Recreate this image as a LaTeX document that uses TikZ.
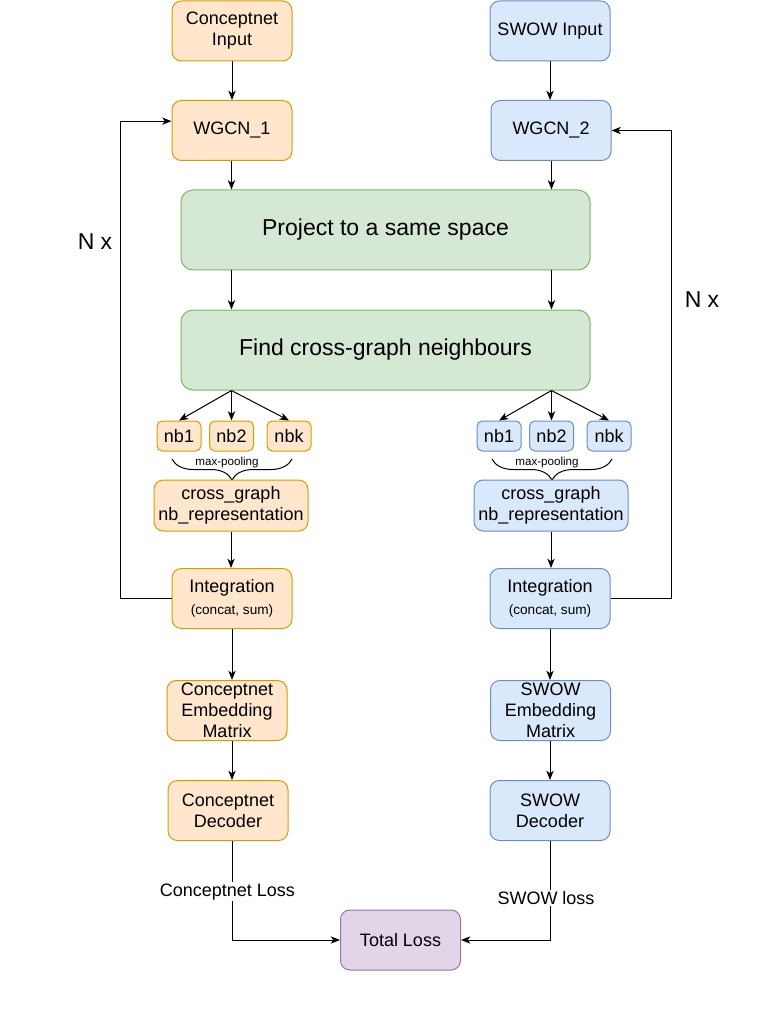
\documentclass[tikz,border=0pt]{standalone}
\usepackage{fontspec}
\setmainfont{Liberation Sans}
\usetikzlibrary{arrows.meta,positioning,decorations.pathreplacing}

\definecolor{cnfill}{HTML}{FFE6CC}
\definecolor{cnline}{HTML}{D79B00}
\definecolor{swfill}{HTML}{DAE8FC}
\definecolor{swline}{HTML}{6C8EBF}
\definecolor{grfill}{HTML}{D5E8D4}
\definecolor{grline}{HTML}{82B366}
\definecolor{lossfill}{HTML}{E1D5E7}
\definecolor{lossline}{HTML}{9673A6}

\newcommand{\boxfont}{\fontsize{13.5}{15.75}\selectfont}
\newcommand{\smallfont}{\fontsize{10.2}{12}\selectfont}

\tikzstyle{block} = [rounded corners=7pt, align=center, inner sep=0pt, font=\boxfont, minimum width=90pt, minimum height=45pt]
\tikzstyle{cnbox} = [block, draw=cnline, fill=cnfill]
\tikzstyle{swbox} = [block, draw=swline, fill=swfill]
\tikzstyle{lossbox} = [block, draw=lossline, fill=lossfill]
\tikzstyle{bigbox} = [block, draw=grline, fill=grfill, minimum width=306.75pt, minimum height=60pt, rounded corners=9pt, font=\fontsize{17.25}{20}\selectfont]
\tikzstyle{nbbox} = [minimum width=33pt, minimum height=22.5pt, rounded corners=4pt]
\tikzstyle{crossbox} = [minimum width=115.5pt, minimum height=38.25pt]
\tikzstyle{pool} = [decorate, decoration={brace, mirror, amplitude=15.75pt}]
\tikzstyle{arrow} = [->]

\begin{document}
\begin{tikzpicture}[x=0.75pt, y=-0.75pt, line width=0.75pt, >={Stealth[length=7pt,width=5.5pt,inset=2pt]}]
            \useasboundingbox (0,0) rectangle (771,1030);

            % Conceptnet 一侧
            \node[cnbox] (cnin) at (232,31) {Conceptnet\\Input};
            \node[cnbox] (wgcn1) at (232,130.5) {WGCN\_1};
            % SWOW 一侧
            \node[swbox] (swin) at (550,31) {SWOW Input};
            \node[swbox] (wgcn2) at (551,130.5) {WGCN\_2};

            % 公共部分
            \node[bigbox] (proj) at (385.5,230) {Project to a same space};
            \node[bigbox] (find) at (385.5,350) {Find cross-graph neighbours};

            % 邻居节点
            \node[cnbox, nbbox] (cnnb1) at (179,436) {nb1};
            \node[cnbox, nbbox] (cnnb2) at (231.5,436) {nb2};
            \node[cnbox, nbbox] (cnnbk) at (289,436) {nbk};
            \node[swbox, nbbox] (swnb1) at (499,436) {nb1};
            \node[swbox, nbbox] (swnb2) at (551.5,436) {nb2};
            \node[swbox, nbbox] (swnbk) at (609,436) {nbk};

            % max-pooling
            \draw[pool] (172,459) -- (292,459);
            \draw[pool] (492,459) -- (612,459);
            \node[font=\fontsize{8.7}{10}\selectfont] (cnpool) at (227,462) {max-pooling};
            \node[font=\fontsize{8.7}{10}\selectfont] (swpool) at (547,462) {max-pooling};

            \node[cnbox, crossbox] (cncross) at (231,505.5) {cross\_graph\\nb\_representation};
            \node[swbox, crossbox] (swcross) at (551,505.5) {cross\_graph\\nb\_representation};

            \node[cnbox] (cnint) at (232,598.5) {Integration\\[1pt]{\smallfont (concat, sum)}};
            \node[swbox] (swint) at (550,598.5) {Integration\\[1pt]{\smallfont (concat, sum)}};

            \node[cnbox] (cnemb) at (227,710.5) {Conceptnet\\Embedding\\Matrix};
            \node[swbox] (swemb) at (550.5,710.5) {SWOW\\Embedding\\Matrix};
            \node[cnbox] (cndec) at (228,810.5) {Conceptnet\\Decoder};
            \node[swbox] (swdec) at (550,810.5) {SWOW\\Decoder};

            \node[lossbox] (total) at (400.5,940) {Total Loss};

            % N x
            \node[font=\fontsize{17.25}{20}\selectfont] (cnrep) at (95,242) {N x};
            \node[font=\fontsize{17.25}{20}\selectfont] (swrep) at (702,300) {N x};

            % 转移箭头
            \draw[arrow] (cnin) -- (wgcn1);
            \draw[arrow] (swin.south) -- (swin.south |- wgcn2.north);
            \draw[arrow] (wgcn1.south -| cnnb2) -- (proj.north -| cnnb2);
            \draw[arrow] (wgcn2.south -| swnb2) -- (proj.north -| swnb2);
            \draw[arrow] (proj.south -| cnnb2) -- (find.north -| cnnb2);
            \draw[arrow] (proj.south -| swnb2) -- (find.north -| swnb2);

            \coordinate (cnsplit) at (find.south -| cnnb2);
            \coordinate (swsplit) at (find.south -| swnb2);
            \foreach \n in {cnnb1,cnnb2,cnnbk}
                \draw[arrow] (cnsplit) -- (\n.north);
            \foreach \n in {swnb1,swnb2,swnbk}
                \draw[arrow] (swsplit) -- (\n.north);

            \draw[arrow] (cncross.south) -- (cncross.south |- cnint.north);
            \draw[arrow] (swcross.south) -- (swcross.south |- swint.north);
            \draw[arrow] (cnint.south) -- (cnint.south |- cnemb.north);
            \draw[arrow] (swint.south) -- (swint.south |- swemb.north);
            \draw[arrow] (cnemb.south -| cnint) -- (cndec.north -| cnint);
            \draw[arrow] (swemb.south -| swint) -- (swdec.north -| swint);

            % 循环 N 次
            \draw[arrow] (cnint.west) -- ++(-51,0) |- ([yshift=7pt]wgcn1.west);
            \draw[arrow] (swint.east) -- ++(61,0) |- (wgcn2.east);

            % 损失
            \draw[arrow] (cndec.south -| cnint) |- (total.west)
                node[pos=0.25, xshift=-3.5pt, yshift=-1pt, fill=white, inner sep=1pt, font=\boxfont] {Conceptnet Loss};
            \draw[arrow] (swdec.south -| swint) |- (total.east)
                node[pos=0.29, xshift=-3pt, fill=white, inner sep=1pt, font=\boxfont] {SWOW loss};
        \end{tikzpicture}
\end{document}
